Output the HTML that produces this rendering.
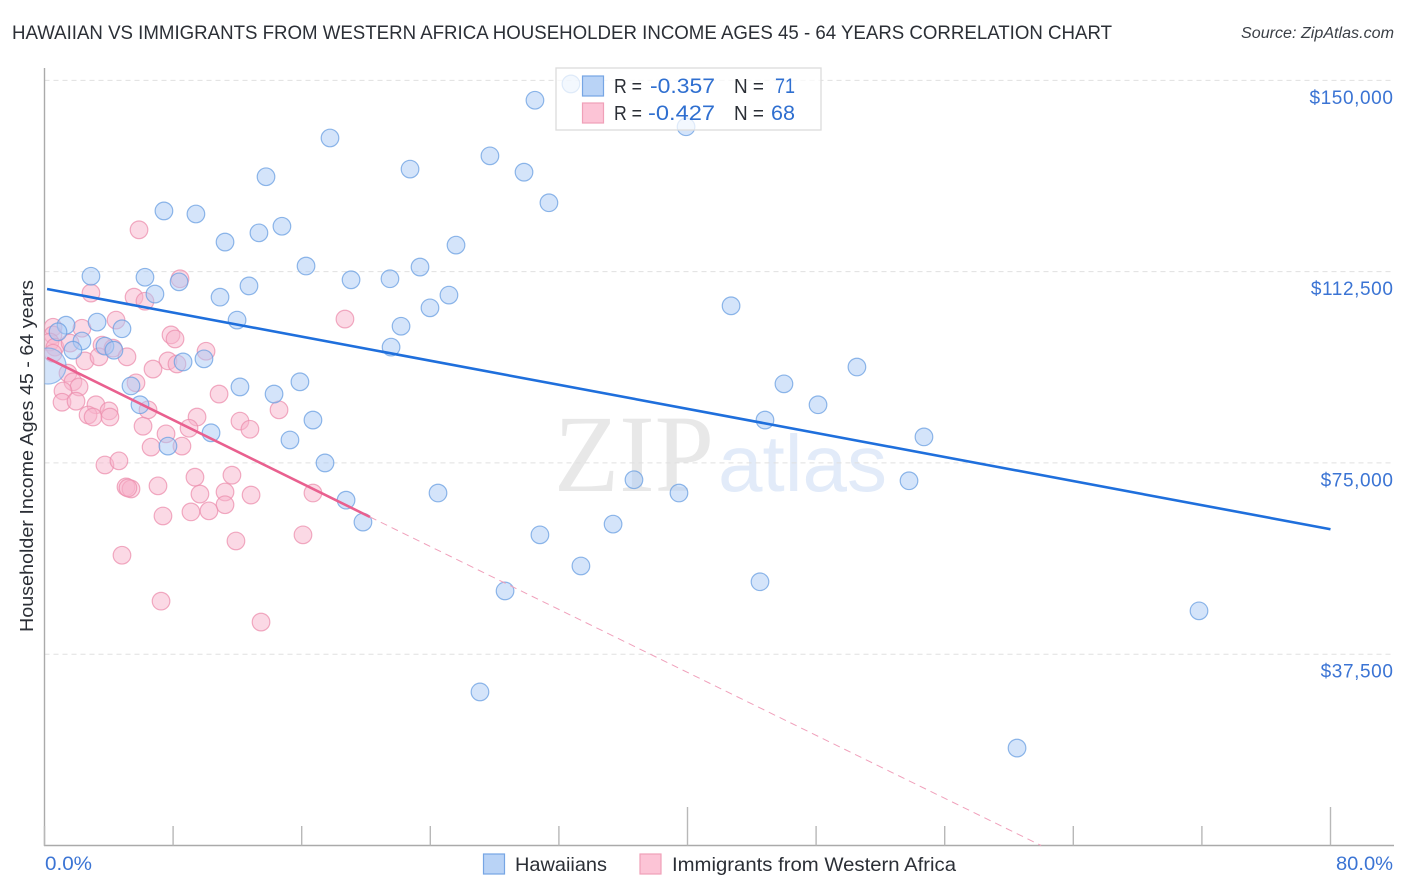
<!DOCTYPE html>
<html lang="en">
<head>
<meta charset="utf-8">
<title>Hawaiian vs Immigrants from Western Africa Householder Income Correlation Chart</title>
<style>
html,body{margin:0;padding:0;background:#fff;}
svg{display:block;font-family:"Liberation Sans",sans-serif;}
</style>
</head>
<body>
<svg id="chart" xmlns="http://www.w3.org/2000/svg" width="1406" height="892" viewBox="0 0 1406 892">
  <defs>
    <clipPath id="plot-clip"><rect x="44.5" y="60" width="1350" height="785.5"/></clipPath>
  </defs>
  <rect x="0" y="0" width="1406" height="892" fill="#ffffff"/>
  <text x="12" y="39" font-size="19" fill="#2b2f36" textLength="1100" lengthAdjust="spacingAndGlyphs">HAWAIIAN VS IMMIGRANTS FROM WESTERN AFRICA HOUSEHOLDER INCOME AGES 45 - 64 YEARS CORRELATION CHART</text>
  <text x="1394" y="38" font-size="15.5" font-style="italic" fill="#3a3f46" text-anchor="end" textLength="153" lengthAdjust="spacingAndGlyphs">Source: ZipAtlas.com</text>
  <text x="554" y="491" font-family="'Liberation Serif',serif" font-size="110" fill="#e8e8e8" textLength="160" lengthAdjust="spacingAndGlyphs">ZIP</text>
  <text x="718" y="491" font-size="80" fill="#e2ebf9">atlas</text>
  <g id="grid"></g>
  <g id="axes"></g>
  <g id="pink-points" clip-path="url(#plot-clip)"></g>
  <g id="blue-points" clip-path="url(#plot-clip)"></g>
  <g id="trends"></g>
  <g id="labels"></g>
  <text transform="translate(33,456) rotate(-90)" font-size="18.6" fill="#2b2f36" text-anchor="middle" textLength="352" lengthAdjust="spacingAndGlyphs">Householder Income Ages 45 - 64 years</text>

  <g>
    <rect x="556" y="68" width="265" height="62" fill="#ffffff" fill-opacity="0.72" stroke="#dcdcdc" stroke-width="1.3"/>
    <rect x="582.5" y="76" width="21" height="20" fill="#b9d3f6" stroke="#76a5e4" stroke-width="1.2"/>
    <rect x="582.5" y="103" width="21" height="20" fill="#fcc4d6" stroke="#f0a0b8" stroke-width="1.2"/>
    <text x="614" y="93" font-size="20" fill="#2b2f36" textLength="28" lengthAdjust="spacingAndGlyphs">R =</text>
    <text x="650" y="93" font-size="21" fill="#2f6fd0" textLength="65" lengthAdjust="spacingAndGlyphs">-0.357</text>
    <text x="734" y="93" font-size="20" fill="#2b2f36" textLength="30" lengthAdjust="spacingAndGlyphs">N =</text>
    <text x="775" y="93" font-size="21" fill="#2f6fd0" textLength="20" lengthAdjust="spacingAndGlyphs">71</text>
    <text x="614" y="120" font-size="20" fill="#2b2f36" textLength="28" lengthAdjust="spacingAndGlyphs">R =</text>
    <text x="648" y="120" font-size="21" fill="#2f6fd0" textLength="67" lengthAdjust="spacingAndGlyphs">-0.427</text>
    <text x="734" y="120" font-size="20" fill="#2b2f36" textLength="30" lengthAdjust="spacingAndGlyphs">N =</text>
    <text x="771" y="120" font-size="21" fill="#2f6fd0" textLength="24" lengthAdjust="spacingAndGlyphs">68</text>
  </g>

  <g>
    <rect x="483.5" y="854" width="21" height="20" fill="#b9d3f6" stroke="#76a5e4" stroke-width="1.2"/>
    <text x="515" y="871" font-size="19.5" fill="#2b2f36" textLength="92" lengthAdjust="spacingAndGlyphs">Hawaiians</text>
    <rect x="640" y="854" width="21" height="20" fill="#fcc4d6" stroke="#f0a0b8" stroke-width="1.2"/>
    <text x="672" y="871" font-size="19.5" fill="#2b2f36" textLength="284" lengthAdjust="spacingAndGlyphs">Immigrants from Western Africa</text>
  </g>
</svg>
<script>
const xTickValues = [0, 8, 16, 24, 32, 40, 48, 56, 64, 72, 80];
const xMajorTicks = [40, 80];
const yTickValues = [150, 112.5, 75, 37.5];
const yTickLabels = ["$150,000", "$112,500", "$75,000", "$37,500"];
const xEndLabels = ["0.0%", "80.0%"];

const hawaiiansX = [32.75,30.51,39.91,17.76,27.71,22.74,29.83,13.78,31.38,7.43,9.42,14.77,13.34,11.23,25.60,16.27,23.36,2.89,6.25,19.07,21.49,8.37,12.72,6.87,25.16,10.92,23.98,42.71,11.98,3.27,1.34,22.18,4.82,0.84,2.33,21.56,1.77,3.76,4.32,9.92,8.62,50.54,15.89,46.0,5.38,12.16,14.28,5.94,48.12,16.70,44.82,10.36,15.27,54.71,7.68,17.45,36.67,53.78,24.48,39.47,18.76,19.81,35.37,30.82,33.37,28.65,44.51,71.82,27.09,60.50];
const hawaiiansY = [149.3,146.1,140.9,138.7,135.2,132.6,132.0,131.1,126.0,124.4,123.8,121.4,120.1,118.3,117.7,113.6,113.4,111.6,111.4,110.9,111.1,110.5,109.7,108.1,107.9,107.5,105.4,105.8,103.0,102.6,102.0,101.8,101.3,100.7,98.9,97.7,97.1,97.9,97.1,95.4,94.8,93.8,90.9,90.5,90.1,89.9,88.5,86.4,86.4,83.4,83.4,80.9,79.5,80.1,78.3,75.0,71.7,71.5,69.1,69.1,67.7,63.4,63.0,60.9,54.8,49.9,51.7,46.0,30.1,19.1];
const hawaiiansClusterX = [0.22];
const hawaiiansClusterY = [94.0];

const immigrantsX = [2.89,5.57,6.25,8.43,18.69,4.45,2.33,0.53,0.53,0.34,0.65,1.59,3.58,4.26,0.53,2.52,3.39,5.13,7.87,8.12,10.05,7.68,8.24,6.75,1.46,5.69,1.77,2.15,1.15,1.09,1.96,3.20,4.01,2.71,3.02,4.07,6.44,6.13,10.86,14.59,12.16,12.78,9.49,8.99,7.56,6.63,8.55,3.76,4.63,5.07,5.38,5.19,7.06,9.36,11.66,9.67,11.23,12.85,11.23,9.11,10.23,7.37,16.70,16.08,11.91,4.82,5.88,7.25,13.47];
const immigrantsY = [108.3,107.5,106.7,111.1,103.2,103.0,101.4,101.6,100.1,98.7,97.7,98.5,98.1,97.5,96.5,95.0,95.8,95.8,100.1,99.3,96.9,95.0,94.4,93.4,92.6,90.7,90.9,89.9,89.1,86.9,87.1,86.4,85.2,84.4,84.0,84.0,85.4,82.2,88.5,85.4,83.2,81.6,84.0,81.8,80.7,78.1,78.3,74.6,75.4,70.3,69.9,70.1,70.5,72.2,72.6,68.9,69.3,68.7,66.8,65.4,65.6,64.6,69.1,60.9,59.7,56.9,120.7,47.9,43.8];

const hawaiiansTrendX = [0.16, 80];
const hawaiiansTrendY = [109.1, 62.0];
const immigrantsTrendX = [0.16, 20.25];
const immigrantsTrendY = [95.6, 64.4];
const immigrantsExtensionX = [20.25, 62.0];
const immigrantsExtensionY = [64.4, 0];

const NS = "http://www.w3.org/2000/svg";
const scaleX = function (pct) { return 44.5 + pct * 16.075; };
const scaleY = function (k) { return 845.5 - k * 5.101; };
const make = function (tag, parent, props) {
  const el = document.createElementNS(NS, tag);
  for (const key in props) { el.setAttribute(key, props[key]); }
  document.getElementById(parent).appendChild(el);
  return el;
};

yTickValues.forEach(function (v) {
  const grid = make("line", "grid", {x1: 44.5, x2: 1394, y1: scaleY(v), y2: scaleY(v), stroke: "#e0e0e0", "stroke-width": 1, "stroke-dasharray": "5 4"});
  
  
});

const yAxisLine = make("line", "axes", {x1: 44.5, x2: 44.5, y1: 68, y2: 846, stroke: "#aaaaaa", "stroke-width": 1.4});


const xAxisLine = make("line", "axes", {x1: 44, x2: 1394, y1: 845.5, y2: 845.5, stroke: "#aaaaaa", "stroke-width": 1.4});


xTickValues.forEach(function (v) {
  const top = xMajorTicks.indexOf(v) >= 0 ? 807 : 826;
  const tick = make("line", "axes", {x1: scaleX(v), x2: scaleX(v), y1: top, y2: 845.5, stroke: "#b8b8b8", "stroke-width": 1.4});
  
  
});

const drawPoints = function (xs, ys, parent, radius, fill, stroke, name) {
  xs.forEach(function (x, i) {
    const dot = make("circle", parent, {cx: scaleX(x), cy: scaleY(ys[i]), r: radius, fill: fill, "fill-opacity": 0.5, stroke: stroke, "stroke-opacity": 0.75, "stroke-width": 1.2});
    
    
  });
};
drawPoints(immigrantsX, immigrantsY, "pink-points", 8.8, "#f8b4cc", "#ec8fae", "immigrants-point");
drawPoints(hawaiiansClusterX, hawaiiansClusterY, "blue-points", 18, "#a9caf5", "#78a8e6", "hawaiians-cluster-point");
drawPoints(hawaiiansX, hawaiiansY, "blue-points", 8.8, "#a9caf5", "#6a9fe2", "hawaiians-point");

const blueTrend = make("line", "trends", {x1: scaleX(hawaiiansTrendX[0]), y1: scaleY(hawaiiansTrendY[0]), x2: scaleX(hawaiiansTrendX[1]), y2: scaleY(hawaiiansTrendY[1]), stroke: "#1f6fdc", "stroke-width": 2.6});


const pinkTrend = make("line", "trends", {x1: scaleX(immigrantsTrendX[0]), y1: scaleY(immigrantsTrendY[0]), x2: scaleX(immigrantsTrendX[1]), y2: scaleY(immigrantsTrendY[1]), stroke: "#e9608f", "stroke-width": 2.6});


const pinkExtension = make("line", "trends", {x1: scaleX(immigrantsExtensionX[0]), y1: scaleY(immigrantsExtensionY[0]), x2: scaleX(immigrantsExtensionX[1]), y2: scaleY(immigrantsExtensionY[1]), stroke: "#f0a0bb", "stroke-width": 1, "stroke-dasharray": "7 5"});



yTickLabels.forEach(function (label, i) {
  const t = make("text", "labels", {x: 1393.5, y: scaleY(yTickValues[i]) + 23.5, "font-size": 19, fill: "#3b74d4", "text-anchor": "end", "letter-spacing": 0.6});
  t.textContent = label;
  
  
});
const xLabelStart = make("text", "labels", {x: 45, y: 870, "font-size": 19, fill: "#3b74d4", textLength: 47, lengthAdjust: "spacingAndGlyphs"});
xLabelStart.textContent = xEndLabels[0];


const xLabelEnd = make("text", "labels", {x: 1336, y: 870, "font-size": 19, fill: "#3b74d4", textLength: 57, lengthAdjust: "spacingAndGlyphs"});
xLabelEnd.textContent = xEndLabels[1];


</script>
</body>
</html>
